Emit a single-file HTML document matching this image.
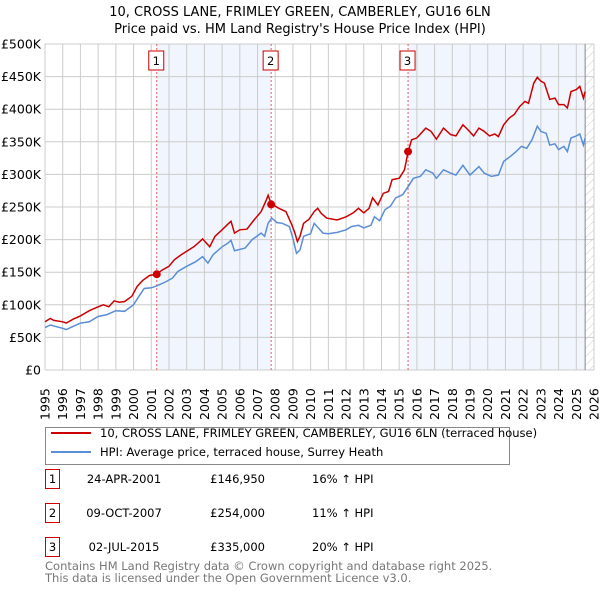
<!DOCTYPE html>
<html><head><meta charset="utf-8"><style>
body{margin:0;background:#fff;font-family:"Liberation Sans","DejaVu Sans",sans-serif;}
svg text{font-family:"DejaVu Sans","Liberation Sans",sans-serif;}
</style></head><body>
<svg id="c" width="600" height="590" xmlns="http://www.w3.org/2000/svg">
<defs><pattern id="hatch" width="6" height="6" patternUnits="userSpaceOnUse" patternTransform="rotate(45)"><line x1="0" y1="0" x2="0" y2="6" stroke="#ccc" stroke-width="1"/></pattern></defs>
<text x="300" y="16" text-anchor="middle" font-size="13">10, CROSS LANE, FRIMLEY GREEN, CAMBERLEY, GU16 6LN</text>
<text x="300" y="33" text-anchor="middle" font-size="13">Price paid vs. HM Land Registry's House Price Index (HPI)</text>
<g id="plot"></g>
<g>
<rect x="45.5" y="427.5" width="464" height="37" fill="#fff" stroke="#888"/>
<line x1="51" y1="433" x2="91" y2="433" stroke="#cc0000" stroke-width="2"/>
<text x="100" y="437" font-size="11.5">10, CROSS LANE, FRIMLEY GREEN, CAMBERLEY, GU16 6LN (terraced house)</text>
<line x1="51" y1="452" x2="91" y2="452" stroke="#5b8ed6" stroke-width="2"/>
<text x="100" y="456" font-size="11.5">HPI: Average price, terraced house, Surrey Heath</text>
</g>
<g id="table" font-size="11.5"></g>
<text x="45" y="570" font-size="11.5" fill="#777">Contains HM Land Registry data © Crown copyright and database right 2025.</text>
<text x="45" y="582" font-size="11.5" fill="#777">This data is licensed under the Open Government Licence v3.0.</text>
</svg>
<script>
const years=[];for(let y=1995;y<=2026;y++)years.push(y);
const yTicks=[0,50,100,150,200,250,300,350,400,450,500];
const yTickLabels=["£0","£50K","£100K","£150K","£200K","£250K","£300K","£350K","£400K","£450K","£500K"];
const redT=[1995,1995.3,1995.5,1996,1996.2,1996.6,1997,1997.5,1998,1998.3,1998.6,1998.9,1999.2,1999.5,1999.9,2000.2,2000.5,2000.9,2001.3,2001.6,2002,2002.3,2002.7,2003,2003.4,2003.7,2003.9,2004.3,2004.6,2005,2005.3,2005.5,2005.7,2006,2006.4,2006.8,2007.2,2007.5,2007.6,2007.77,2008.2,2008.6,2008.9,2009.1,2009.25,2009.4,2009.6,2009.9,2010.2,2010.4,2010.6,2010.9,2011.5,2012,2012.4,2012.7,2013,2013.3,2013.5,2013.8,2014.1,2014.4,2014.6,2015,2015.3,2015.5,2015.7,2016,2016.5,2016.8,2017.1,2017.5,2017.9,2018.2,2018.6,2018.9,2019.2,2019.5,2019.8,2020.1,2020.4,2020.6,2020.9,2021.2,2021.5,2021.8,2022.1,2022.3,2022.6,2022.8,2023,2023.2,2023.5,2023.8,2024,2024.3,2024.5,2024.7,2025,2025.2,2025.4,2025.5];
const redV=[74,79,76,74,72,78,83,91,97,100,97,106,104,105,113,128,137,145,147,153,159,169,177,182,189,196,201,189,205,215,223,228,210,215,216,230,243,261,268,255,248,243,225,211,197,205,225,231,243,248,240,233,230,235,241,248,241,248,264,253,271,274,292,294,307,334,353,356,371,366,354,371,361,359,376,368,359,371,366,359,362,358,376,386,392,404,412,409,440,449,443,440,415,417,407,407,402,427,430,435,417,427];
const blueT=[1995,1995.3,1996,1996.2,1997,1997.5,1998,1998.5,1999,1999.5,2000,2000.3,2000.6,2001,2001.3,2001.8,2002.2,2002.5,2003,2003.5,2003.9,2004.2,2004.5,2005,2005.3,2005.5,2005.7,2006.3,2006.7,2007.2,2007.4,2007.6,2007.8,2008.1,2008.4,2008.8,2009,2009.2,2009.4,2009.6,2010,2010.2,2010.4,2010.7,2011,2011.5,2012,2012.3,2012.7,2013,2013.4,2013.6,2013.9,2014.2,2014.5,2014.8,2015.2,2015.5,2015.8,2016.2,2016.5,2016.9,2017.1,2017.5,2017.9,2018.2,2018.6,2019,2019.5,2019.8,2020.2,2020.6,2020.9,2021.3,2021.6,2021.9,2022.2,2022.5,2022.8,2023,2023.3,2023.5,2023.8,2024,2024.3,2024.5,2024.7,2025,2025.2,2025.4,2025.5];
const blueV=[65,69,64,62,72,74,82,85,91,90,100,113,125,126,129,135,141,151,159,166,174,164,177,189,194,199,183,187,200,210,205,225,233,226,225,220,202,179,184,205,209,225,219,210,209,211,215,220,222,218,222,235,229,246,251,264,269,281,294,297,307,302,294,307,302,299,314,299,312,302,297,299,320,328,335,343,340,353,374,366,363,345,347,338,343,335,356,359,362,345,356];
const saleT=[2001.31,2007.77,2015.5];
const saleV=[146.95,254,335];
const saleLabels=["1","2","3"];
const saleDates=["24-APR-2001","09-OCT-2007","02-JUL-2015"];
const salePrices=["£146,950","£254,000","£335,000"];
const saleHpi=["16% ↑ HPI","11% ↑ HPI","20% ↑ HPI"];
const endT=2025.5;

const X0=45,X1=594,Y0=370,Y1=44;
const sx=t=>X0+(t-1995)/(2026-1995)*(X1-X0);
const sy=v=>Y0-v/500*(Y0-Y1);
const NS="http://www.w3.org/2000/svg";
function mk(tag,attrs,parent){const e=document.createElementNS(NS,tag);for(const k in attrs)e.setAttribute(k,attrs[k]);parent.appendChild(e);return e;}
const g=document.getElementById('plot');
let e;
e=mk('rect',{x:X0,y:Y1,width:X1-X0,height:Y0-Y1,fill:'#fff'},g);


e=mk('rect',{x:sx(saleT[0]),y:Y1,width:sx(saleT[1])-sx(saleT[0]),height:Y0-Y1,fill:'#eef3fc',opacity:0.8},g);


e=mk('rect',{x:sx(saleT[2]),y:Y1,width:sx(endT)-sx(saleT[2]),height:Y0-Y1,fill:'#eef3fc',opacity:0.8},g);


e=mk('rect',{x:sx(endT),y:Y1,width:X1-sx(endT),height:Y0-Y1,fill:'url(#hatch)'},g);


years.forEach(y=>{
 e=mk('line',{x1:sx(y),x2:sx(y),y1:Y1,y2:Y0,stroke:'#ccc','stroke-width':1},g);
 
 
 e=mk('text',{x:0,y:0,'font-size':12.5,transform:`translate(${sx(y)+4.5},${Y0+50}) rotate(-90)`},g);
 e.textContent=y;
 
 
});
yTicks.forEach((v,i)=>{
 e=mk('line',{x1:X0,x2:X1,y1:sy(v),y2:sy(v),stroke:'#ccc','stroke-width':1},g);
 
 
 e=mk('text',{x:X0-4,y:sy(v)+4.5,'font-size':12.5,'text-anchor':'end'},g);
 e.textContent=yTickLabels[i];
 
 
});
e=mk('line',{x1:sx(endT),x2:sx(endT),y1:Y1,y2:Y0,stroke:'#888','stroke-width':1},g);


saleT.forEach((t,i)=>{
 e=mk('line',{x1:sx(t),x2:sx(t),y1:Y1,y2:Y0,stroke:'#e06060','stroke-width':1,'stroke-dasharray':'2,2'},g);
 
 
 e=mk('rect',{x:sx(t)-8,y:51,width:15,height:19,fill:'#fff',stroke:'#cc0000'},g);
 
 
 e=mk('text',{x:sx(t)-0.5,y:65,'font-size':11.5,'text-anchor':'middle'},g);
 e.textContent=saleLabels[i];
 
 
});
const path=(T,V)=>T.map((t,i)=>(i?'L':'M')+sx(t).toFixed(1)+','+sy(V[i]).toFixed(1)).join('');
e=mk('path',{d:path(blueT,blueV),fill:'none',stroke:'#5b8ed6','stroke-width':1.5},g);


e=mk('path',{d:path(redT,redV),fill:'none',stroke:'#cc0000','stroke-width':1.5},g);


saleT.forEach((t,i)=>{
 e=mk('circle',{cx:sx(t),cy:sy(saleV[i]),r:4,fill:'#cc0000'},g);
 
 
});
const tb=document.getElementById('table');
const rowY=[482,516,550];
saleLabels.forEach((l,i)=>{
 e=mk('rect',{x:45.5,y:rowY[i]-12.5,width:14,height:19,fill:'#fff',stroke:'#cc0000'},tb);
 
 
 e=mk('text',{x:52.5,y:rowY[i]+1,'text-anchor':'middle'},tb);e.textContent=l;
 
 
 e=mk('text',{x:124,y:rowY[i]+1,'text-anchor':'middle'},tb);e.textContent=saleDates[i];
 
 
 e=mk('text',{x:265,y:rowY[i]+1,'text-anchor':'end'},tb);e.textContent=salePrices[i];
 
 
 e=mk('text',{x:312,y:rowY[i]+1},tb);e.textContent=saleHpi[i];
 
 
});
</script>
</body></html>
